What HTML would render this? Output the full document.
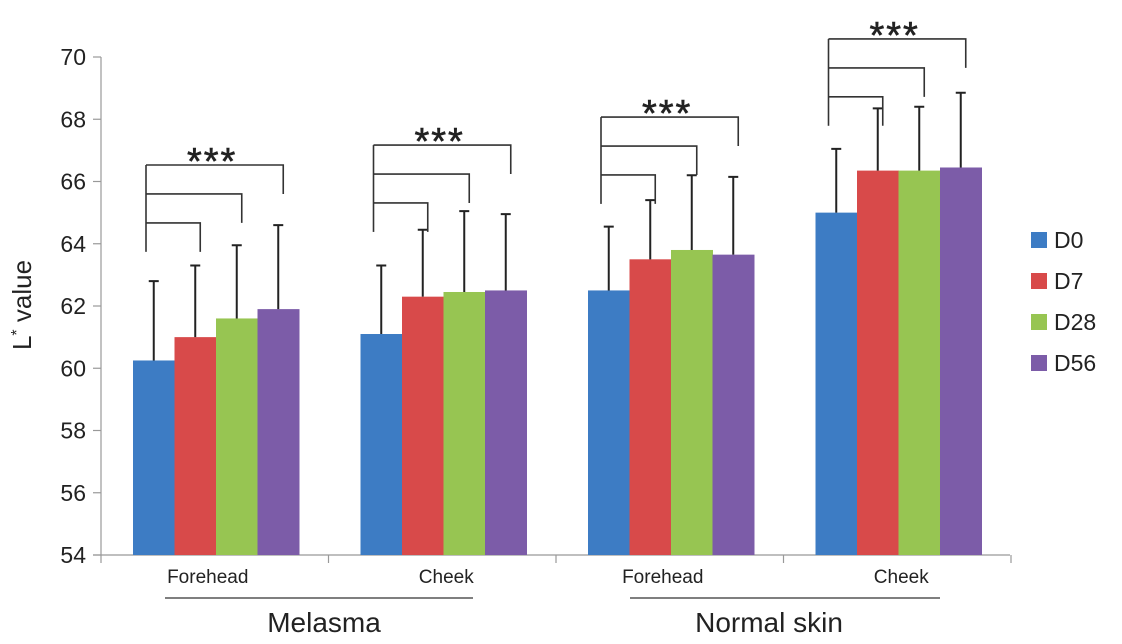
<!DOCTYPE html>
<html><head><meta charset="utf-8"><style>
body{margin:0;background:#fff}
svg{display:block;font-family:"Liberation Sans",Arial,sans-serif}
</style></head><body>
<svg id="c" width="1122" height="644" viewBox="0 0 1122 644"></svg>
<script>
const categories=["Forehead","Cheek","Forehead","Cheek"];
const seriesNames=["D0","D7","D28","D56"];
const colors=["#3d7cc4","#d84a4a","#97c552","#7c5ca8"];
const d0=[60.25,61.1,62.5,65.0];
const d7=[61.0,62.3,63.5,66.35];
const d28=[61.6,62.45,63.8,66.35];
const d56=[61.9,62.5,63.65,66.45];
const err0=[2.55,2.2,2.05,2.05];
const err7=[2.3,2.15,1.9,2.0];
const err28=[2.35,2.6,2.4,2.05];
const err56=[2.7,2.45,2.5,2.4];
const bracketTop=[66.53,67.17,68.07,70.58];
const yTicks=[54,56,58,60,62,64,66,68,70];
const groupLabels=["Melasma","Normal skin"];
const series=[d0,d7,d28,d56], errs=[err0,err7,err28,err56];
const NS="http://www.w3.org/2000/svg", svg=document.getElementById('c');
const y0=555,yTop=57,vmin=54,vmax=70,x0=100,gw=227.5,off=33,bw=41.5;
const Y=v=>y0-(v-vmin)/(vmax-vmin)*(y0-yTop);
const X=(g,s)=>x0+g*gw+off+s*bw;
function el(t,a,txt){const e=document.createElementNS(NS,t);for(const k in a)e.setAttribute(k,a[k]);if(txt!=null)e.textContent=txt;svg.appendChild(e);return e;}
let e;
e=el('line',{x1:101,y1:yTop,x2:101,y2:y0,stroke:'#999','stroke-width':1.2});

e=el('line',{x1:93,y1:y0,x2:x0+4*gw,y2:y0,stroke:'#999','stroke-width':1.2});

yTicks.forEach(t=>{
 e=el('line',{x1:93,y1:Y(t),x2:101,y2:Y(t),stroke:'#999','stroke-width':1.2});
 
 e=el('text',{x:86,y:Y(t)+8,'text-anchor':'end','font-size':23,fill:'#222'},t);
 
});
for(let g=0;g<=4;g++){e=el('line',{x1:x0+g*gw+1,y1:y0,x2:x0+g*gw+1,y2:563,stroke:'#999','stroke-width':1.2});
 }
categories.forEach((c,g)=>{
 series.forEach((s,i)=>{
  const x=X(g,i);
  e=el('rect',{x:x,y:Y(s[g]),width:bw+0.5,height:y0-Y(s[g]),fill:colors[i]});
  
  const cx=x+bw/2, top=Y(s[g]+errs[i][g]);
  e=el('path',{d:`M${cx},${Y(s[g])}V${top}M${cx-5},${top}H${cx+5}`,stroke:'#222','stroke-width':2,fill:'none'});
  
 });
 e=el('text',{x:x0+g*gw+gw/2+(g%2?5:-6),y:583,'text-anchor':'middle','font-size':19,fill:'#222'},c);
 
 const lx=X(g,0)+13, step=0.93, top=bracketTop[g];
 const lv=[top,top-step,top-2*step];
 e=el('line',{x1:lx,y1:Y(top),x2:lx,y2:Y(top-3*step),stroke:'#333','stroke-width':1.6});
 
 [3,2,1].forEach((si,k)=>{
  const rx=X(g,si)+bw/2+5;
  e=el('path',{d:`M${lx},${Y(lv[k])}H${rx}V${Y(lv[k]-step)}`,stroke:'#333','stroke-width':1.6,fill:'none'});
  
 });
 e=el('text',{x:(lx+X(g,3)+bw/2)/2,y:Y(top)+9,'text-anchor':'middle','font-size':38,'letter-spacing':2,fill:'#222',stroke:'#222','stroke-width':0.6},'***');
 
});
[[165,473],[630,940]].forEach((r,i)=>{
 e=el('line',{x1:r[0],y1:598,x2:r[1],y2:598,stroke:'#555','stroke-width':1.6});
 
 e=el('text',{x:(r[0]+r[1])/2+(i?-16:5),y:632,'text-anchor':'middle','font-size':28,fill:'#222'},groupLabels[i]);
 
});
e=el('text',{x:0,y:0,'text-anchor':'middle','font-size':26,fill:'#222',transform:'translate(31,305) rotate(-90)'});
e.innerHTML='L<tspan dy="-9" font-size="16">*</tspan><tspan dy="9"> value</tspan>';

seriesNames.forEach((n,i)=>{
 const yy=240+i*41;
 e=el('rect',{x:1031,y:yy-8,width:16,height:16,fill:colors[i]});
 
 e=el('text',{x:1054,y:yy+8,'font-size':23,fill:'#222'},n);
 
});
</script>
</body></html>
